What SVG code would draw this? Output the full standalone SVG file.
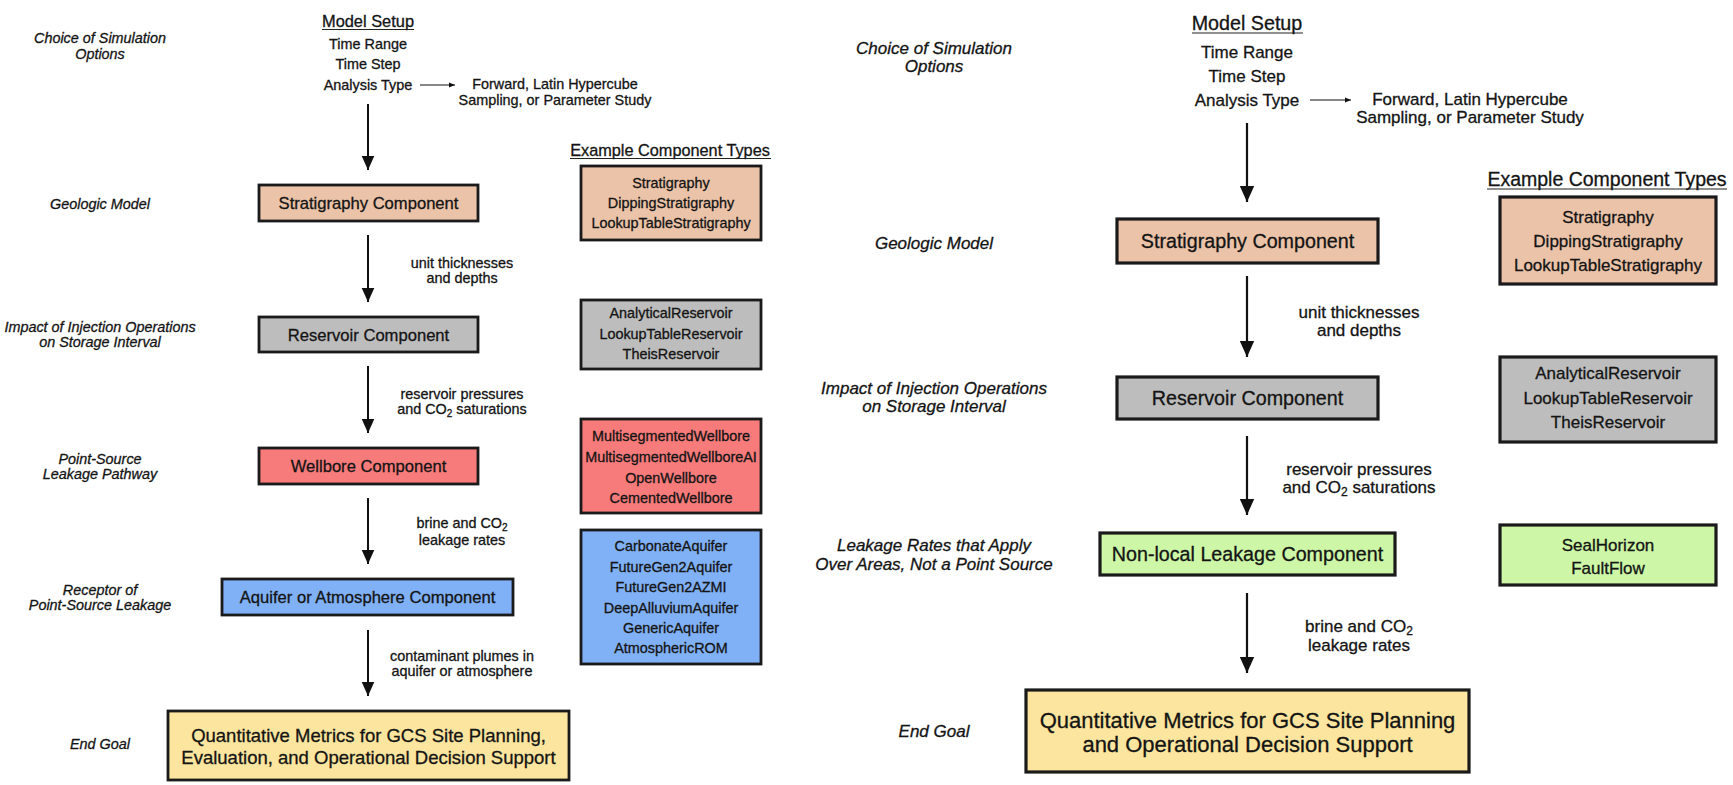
<svg xmlns="http://www.w3.org/2000/svg" width="1733" height="785" viewBox="0 0 1733 785">
<defs>
<style>
text{font-family:"Liberation Sans",Arial,sans-serif;fill:#141414;stroke:#141414;stroke-width:0.3;text-anchor:middle}
.lab{font-style:italic;font-size:14.4px}
.labR{font-style:italic;font-size:17px}
.s{font-size:14.4px}
.sR{font-size:17px}
.comp{font-size:16.6px}
.compR{font-size:19.7px}
.box{stroke:#1a1a1a;stroke-width:2.8}
.boxR{stroke:#1a1a1a;stroke-width:3.2}
.strat{fill:#EBC3A8}
.res{fill:#BDBDBD}
.well{fill:#F77B7B}
.aq{fill:#80B0F5}
.nl{fill:#CDF7A6}
.goal{fill:#FCE59E}
.ar{stroke:#111;stroke-width:2;fill:none}
.arR{stroke:#111;stroke-width:2.2;fill:none}
.thin{stroke:#111;stroke-width:1.2;fill:none}
.ul{stroke:#222;stroke-width:1.2}
</style>
<marker id="head" viewBox="0 0 10 10" refX="10" refY="5" markerUnits="userSpaceOnUse" markerWidth="14" markerHeight="14" orient="auto"><path d="M0,0.5 L10,5 L0,9.5 Z" fill="#111"/></marker>
<marker id="headR" viewBox="0 0 10 10" refX="10" refY="5" markerUnits="userSpaceOnUse" markerWidth="18" markerHeight="16" orient="auto"><path d="M0,0.5 L10,5 L0,9.5 Z" fill="#111"/></marker>
<marker id="headS" viewBox="0 0 10 10" refX="10" refY="5" markerUnits="userSpaceOnUse" markerWidth="6" markerHeight="6" orient="auto"><path d="M0,1 L10,5 L0,9 Z" fill="#111"/></marker>
</defs>
<rect width="1733" height="785" fill="#ffffff"/>

<!-- LEFT DIAGRAM -->
<g id="left-labels">
<text class="lab" x="100" y="43">Choice of Simulation</text>
<text class="lab" x="100" y="59">Options</text>
<text class="lab" x="100" y="209">Geologic Model</text>
<text class="lab" x="100" y="332">Impact of Injection Operations</text>
<text class="lab" x="100" y="347">on Storage Interval</text>
<text class="lab" x="100" y="464">Point-Source</text>
<text class="lab" x="100" y="479">Leakage Pathway</text>
<text class="lab" x="100" y="595">Receptor of</text>
<text class="lab" x="100" y="610">Point-Source Leakage</text>
<text class="lab" x="100" y="749">End Goal</text>
</g>

<g id="left-model-setup">
<text x="368" y="27" style="font-size:16.4px">Model Setup</text>
<line class="ul" x1="322" y1="29.5" x2="414" y2="29.5"/>
<text class="s" x="368" y="49">Time Range</text>
<text class="s" x="368" y="69">Time Step</text>
<text class="s" x="368" y="90">Analysis Type</text>
<text class="s" x="555" y="89">Forward, Latin Hypercube</text>
<text class="s" x="555" y="105">Sampling, or Parameter Study</text>
</g>

<g id="left-example-title">
<text x="670" y="156" style="font-size:16.3px">Example Component Types</text>
<line class="ul" x1="570" y1="158.5" x2="771" y2="158.5"/>
</g>

<g id="left-strat">
<rect class="box strat" x="259" y="185" width="219" height="36"/>
<text class="comp" x="368.5" y="209">Stratigraphy Component</text>
</g>
<g id="left-strat-ex">
<rect class="box strat" x="581" y="166" width="180" height="74"/>
<text class="s" x="671" y="188">Stratigraphy</text>
<text class="s" x="671" y="208">DippingStratigraphy</text>
<text class="s" x="671" y="228">LookupTableStratigraphy</text>
</g>
<g id="left-res">
<rect class="box res" x="259" y="317" width="219" height="35"/>
<text class="comp" x="368.5" y="341">Reservoir Component</text>
</g>
<g id="left-res-ex">
<rect class="box res" x="581" y="300" width="180" height="69"/>
<text class="s" x="671" y="318">AnalyticalReservoir</text>
<text class="s" x="671" y="339">LookupTableReservoir</text>
<text class="s" x="671" y="359">TheisReservoir</text>
</g>
<g id="left-well">
<rect class="box well" x="259" y="448" width="219" height="36"/>
<text class="comp" x="368.5" y="472">Wellbore Component</text>
</g>
<g id="left-well-ex">
<rect class="box well" x="581" y="419" width="180" height="94"/>
<text class="s" x="671" y="441">MultisegmentedWellbore</text>
<text class="s" x="671" y="462">MultisegmentedWellboreAI</text>
<text class="s" x="671" y="483">OpenWellbore</text>
<text class="s" x="671" y="503">CementedWellbore</text>
</g>
<g id="left-aq">
<rect class="box aq" x="222" y="579" width="291" height="36"/>
<text class="comp" x="367.5" y="603">Aquifer or Atmosphere Component</text>
</g>
<g id="left-aq-ex">
<rect class="box aq" x="581" y="530" width="180" height="134"/>
<text class="s" x="671" y="551">CarbonateAquifer</text>
<text class="s" x="671" y="572">FutureGen2Aquifer</text>
<text class="s" x="671" y="592">FutureGen2AZMI</text>
<text class="s" x="671" y="613">DeepAlluviumAquifer</text>
<text class="s" x="671" y="633">GenericAquifer</text>
<text class="s" x="671" y="653">AtmosphericROM</text>
</g>
<g id="left-goal">
<rect class="box goal" x="168" y="711" width="401" height="69"/>
<text x="368.5" y="742" style="font-size:18.5px">Quantitative Metrics for GCS Site Planning,</text>
<text x="368.5" y="764" style="font-size:18.5px">Evaluation, and Operational Decision Support</text>
</g>

<g id="left-connectors">
<line class="thin" x1="420" y1="85" x2="455" y2="85" marker-end="url(#headS)"/>
<line class="ar" x1="368" y1="104" x2="368" y2="170" marker-end="url(#head)"/>
<line class="ar" x1="368" y1="235" x2="368" y2="302" marker-end="url(#head)"/>
<line class="ar" x1="368" y1="366" x2="368" y2="433" marker-end="url(#head)"/>
<line class="ar" x1="368" y1="498" x2="368" y2="564" marker-end="url(#head)"/>
<line class="ar" x1="368" y1="630" x2="368" y2="696" marker-end="url(#head)"/>
<text class="s" x="462" y="268">unit thicknesses</text>
<text class="s" x="462" y="283">and depths</text>
<text class="s" x="462" y="399">reservoir pressures</text>
<text class="s" x="462" y="414">and CO<tspan font-size="10" dy="2.5">2</tspan><tspan dy="-2.5"> saturations</tspan></text>
<text class="s" x="462" y="528">brine and CO<tspan font-size="10" dy="2.5">2</tspan></text>
<text class="s" x="462" y="545">leakage rates</text>
<text class="s" x="462" y="661">contaminant plumes in</text>
<text class="s" x="462" y="676">aquifer or atmosphere</text>
</g>

<!-- RIGHT DIAGRAM -->
<g id="right-labels">
<text class="labR" x="934" y="54">Choice of Simulation</text>
<text class="labR" x="934" y="72">Options</text>
<text class="labR" x="934" y="249">Geologic Model</text>
<text class="labR" x="934" y="394">Impact of Injection Operations</text>
<text class="labR" x="934" y="412">on Storage Interval</text>
<text class="labR" x="934" y="551">Leakage Rates that Apply</text>
<text class="labR" x="934" y="570">Over Areas, Not a Point Source</text>
<text class="labR" x="934" y="737">End Goal</text>
</g>

<g id="right-model-setup">
<text x="1247" y="30" style="font-size:19.7px">Model Setup</text>
<line class="ul" x1="1192" y1="33" x2="1303" y2="33"/>
<text class="sR" x="1247" y="58">Time Range</text>
<text class="sR" x="1247" y="82">Time Step</text>
<text class="sR" x="1247" y="106">Analysis Type</text>
<text class="sR" x="1470" y="105">Forward, Latin Hypercube</text>
<text class="sR" x="1470" y="123">Sampling, or Parameter Study</text>
</g>

<g id="right-example-title">
<text x="1607" y="186" style="font-size:19.5px">Example Component Types</text>
<line class="ul" x1="1487" y1="189" x2="1727" y2="189"/>
</g>

<g id="right-strat">
<rect class="boxR strat" x="1117" y="219" width="261" height="44"/>
<text class="compR" x="1247.5" y="248">Stratigraphy Component</text>
</g>
<g id="right-strat-ex">
<rect class="boxR strat" x="1500" y="197" width="216" height="87"/>
<text class="sR" x="1608" y="223">Stratigraphy</text>
<text class="sR" x="1608" y="247">DippingStratigraphy</text>
<text class="sR" x="1608" y="271">LookupTableStratigraphy</text>
</g>
<g id="right-res">
<rect class="boxR res" x="1117" y="377" width="261" height="42"/>
<text class="compR" x="1247.5" y="405">Reservoir Component</text>
</g>
<g id="right-res-ex">
<rect class="boxR res" x="1500" y="357" width="216" height="85"/>
<text class="sR" x="1608" y="379">AnalyticalReservoir</text>
<text class="sR" x="1608" y="404">LookupTableReservoir</text>
<text class="sR" x="1608" y="428">TheisReservoir</text>
</g>
<g id="right-nl">
<rect class="boxR nl" x="1100" y="533" width="295" height="42"/>
<text class="compR" x="1247.5" y="561">Non-local Leakage Component</text>
</g>
<g id="right-nl-ex">
<rect class="boxR nl" x="1500" y="525" width="216" height="60"/>
<text class="sR" x="1608" y="551">SealHorizon</text>
<text class="sR" x="1608" y="574">FaultFlow</text>
</g>
<g id="right-goal">
<rect class="boxR goal" x="1026" y="690" width="443" height="82"/>
<text x="1247.5" y="728" style="font-size:22px">Quantitative Metrics for GCS Site Planning</text>
<text x="1247.5" y="752" style="font-size:22px">and Operational Decision Support</text>
</g>

<g id="right-connectors">
<line class="thin" x1="1310" y1="100" x2="1351" y2="100" marker-end="url(#headS)"/>
<line class="arR" x1="1247" y1="123" x2="1247" y2="202" marker-end="url(#headR)"/>
<line class="arR" x1="1247" y1="276" x2="1247" y2="357" marker-end="url(#headR)"/>
<line class="arR" x1="1247" y1="436" x2="1247" y2="515" marker-end="url(#headR)"/>
<line class="arR" x1="1247" y1="593" x2="1247" y2="673" marker-end="url(#headR)"/>
<text class="sR" x="1359" y="318">unit thicknesses</text>
<text class="sR" x="1359" y="336">and depths</text>
<text class="sR" x="1359" y="475">reservoir pressures</text>
<text class="sR" x="1359" y="493">and CO<tspan font-size="12" dy="2.5">2</tspan><tspan dy="-2.5"> saturations</tspan></text>
<text class="sR" x="1359" y="632">brine and CO<tspan font-size="12" dy="2.5">2</tspan></text>
<text class="sR" x="1359" y="651">leakage rates</text>
</g>
</svg>
